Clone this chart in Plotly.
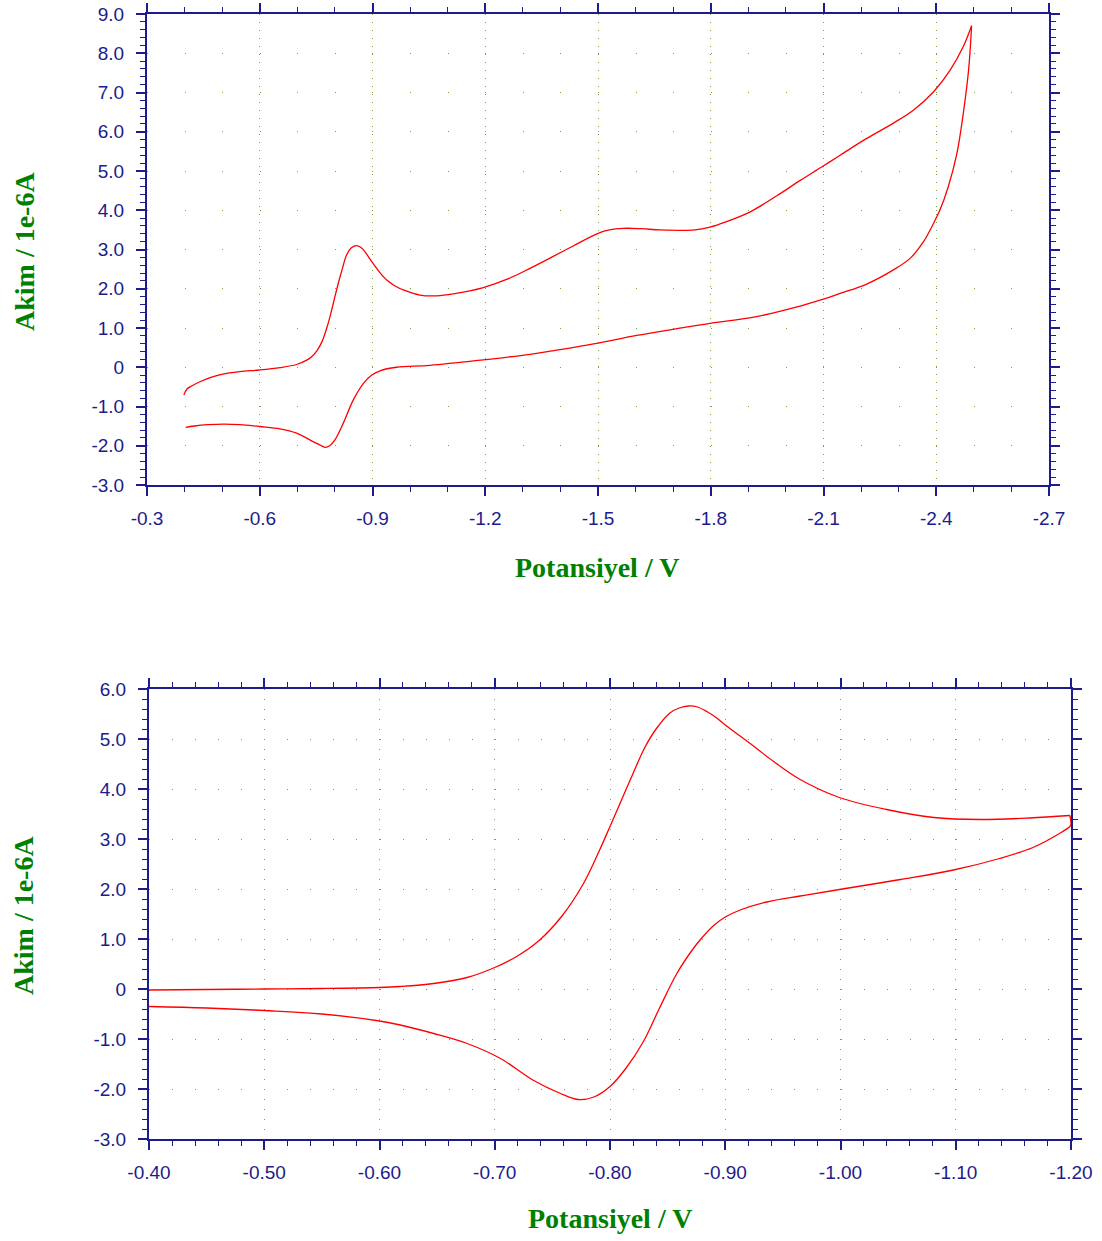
import numpy as np
import plotly.graph_objects as go

# ---------------- data ----------------
# Top panel: full scan -0.4 V -> -2.5 V -> -0.4 V  (current in 1e-6 A)
top_fwd_v = [-0.398, -0.406, -0.420, -0.441, -0.470, -0.499, -0.547, -0.599, -0.654, -0.698,
             -0.725, -0.738, -0.752, -0.765, -0.776, -0.787, -0.798, -0.809, -0.820, -0.831,
             -0.843, -0.856, -0.866, -0.876, -0.898, -0.918, -0.938, -0.960, -0.982, -1.026,
             -1.071, -1.115, -1.195, -1.260, -1.319, -1.372, -1.434, -1.497, -1.530, -1.567,
             -1.616, -1.665, -1.758, -1.798, -1.842, -1.905, -1.976, -2.038, -2.095, -2.144,
             -2.215, -2.286, -2.339, -2.393, -2.437, -2.472, -2.494]
top_fwd_i = [-0.71, -0.56, -0.47, -0.37, -0.26, -0.18, -0.11, -0.07, -0.01, 0.07,
             0.18, 0.27, 0.42, 0.64, 0.93, 1.29, 1.72, 2.14, 2.52, 2.86,
             3.04, 3.10, 3.07, 2.99, 2.69, 2.43, 2.22, 2.07, 1.97, 1.84,
             1.82, 1.87, 2.03, 2.25, 2.52, 2.78, 3.09, 3.40, 3.50, 3.54,
             3.53, 3.50, 3.50, 3.57, 3.71, 3.96, 4.37, 4.76, 5.10, 5.40,
             5.83, 6.22, 6.55, 7.02, 7.57, 8.17, 8.70]
top_rev_v = [-2.494, -2.491, -2.486, -2.472, -2.455, -2.432, -2.410, -2.393, -2.366, -2.331,
             -2.286, -2.215, -2.144, -2.095, -2.038, -1.922, -1.798, -1.727, -1.603, -1.497,
             -1.372, -1.319, -1.195, -1.053, -0.964, -0.920, -0.898, -0.876, -0.849, -0.822,
             -0.800, -0.786, -0.774, -0.760, -0.743, -0.698, -0.654, -0.599, -0.547, -0.463,
             -0.432, -0.403]
top_rev_i = [8.70, 8.20, 7.57, 6.47, 5.45, 4.60, 4.01, 3.67, 3.20, 2.78,
             2.48, 2.12, 1.88, 1.72, 1.56, 1.29, 1.12, 1.01, 0.81, 0.61,
             0.41, 0.33, 0.19, 0.05, 0.00, -0.09, -0.20, -0.41, -0.83, -1.43,
             -1.85, -2.00, -2.04, -1.98, -1.90, -1.68, -1.57, -1.51, -1.46, -1.46,
             -1.49, -1.53]

# Bottom panel: scan -0.4 V -> -1.2 V -> -0.4 V
bot_fwd_v = [-0.400, -0.450, -0.500, -0.550, -0.600, -0.618, -0.647, -0.676, -0.700, -0.719,
             -0.739, -0.759, -0.777, -0.791, -0.800, -0.810, -0.820, -0.830, -0.840, -0.852,
             -0.860, -0.868, -0.876, -0.884, -0.892, -0.900, -0.921, -0.942, -0.965, -0.999,
             -1.040, -1.081, -1.121, -1.164, -1.199]
bot_fwd_i = [-0.02, -0.01, 0.00, 0.01, 0.03, 0.05, 0.11, 0.23, 0.43, 0.65,
             0.98, 1.48, 2.11, 2.78, 3.25, 3.78, 4.31, 4.82, 5.20, 5.52,
             5.62, 5.66, 5.64, 5.55, 5.43, 5.28, 4.92, 4.55, 4.19, 3.83,
             3.59, 3.43, 3.39, 3.42, 3.47]
bot_rev_v = [-1.199, -1.200, -1.199, -1.190, -1.167, -1.138, -1.098, -1.052, -0.999, -0.965,
             -0.936, -0.913, -0.900, -0.890, -0.880, -0.872, -0.858, -0.843, -0.829,
             -0.814, -0.800, -0.786, -0.772, -0.757, -0.733, -0.705, -0.676, -0.647, -0.618,
             -0.600, -0.550, -0.500, -0.450, -0.400]
bot_rev_i = [3.47, 3.30, 3.25, 3.11, 2.83, 2.61, 2.38, 2.19, 1.99, 1.86,
             1.74, 1.58, 1.44, 1.27, 1.03, 0.80, 0.31, -0.38, -1.05,
             -1.58, -1.95, -2.16, -2.21, -2.09, -1.82, -1.39, -1.09, -0.89, -0.72,
             -0.64, -0.50, -0.43, -0.38, -0.35]

# tick labels
top_x_vals = [-0.3, -0.6, -0.9, -1.2, -1.5, -1.8, -2.1, -2.4, -2.7]
top_x_text = ["-0.3", "-0.6", "-0.9", "-1.2", "-1.5", "-1.8", "-2.1", "-2.4", "-2.7"]
top_y_vals = [-3, -2, -1, 0, 1, 2, 3, 4, 5, 6, 7, 8, 9]
top_y_text = ["-3.0", "-2.0", "-1.0", "0", "1.0", "2.0", "3.0", "4.0", "5.0", "6.0", "7.0", "8.0", "9.0"]
bot_x_vals = [-0.4, -0.5, -0.6, -0.7, -0.8, -0.9, -1.0, -1.1, -1.2]
bot_x_text = ["-0.40", "-0.50", "-0.60", "-0.70", "-0.80", "-0.90", "-1.00", "-1.10", "-1.20"]
bot_y_vals = [-3, -2, -1, 0, 1, 2, 3, 4, 5, 6]
bot_y_text = ["-3.0", "-2.0", "-1.0", "0", "1.0", "2.0", "3.0", "4.0", "5.0", "6.0"]

x_title = "Potansiyel / V"
y_title = "Akim / 1e-6A"

# ---------------- styling ----------------
OFF = 0  # page body margin removed via post_script
W, H = 1102, 1241
NAVY = "#1c1c8c"
GRID = "#7aa040"
GREEN = "#008000"
RED = "#ff0000"
TICKFONT = dict(family="Liberation Sans, Arial, sans-serif", size=19, color=NAVY)
TITLEFONT = dict(family="Liberation Serif, Times New Roman, serif", size=28, color=GREEN, weight="bold")


def px_domain_x(a, b):
    return [(a - OFF) / W, (b - OFF) / W]


def px_domain_y(top, bottom):
    return [1 - (bottom - OFF) / H, 1 - (top - OFF) / H]


def pos(px, py):
    return (px - OFF) / W, 1 - (py - OFF) / H


def axis(domain, rng, vals, text, minor_dtick, griddash, anchor, standoff):
    return dict(
        domain=domain, range=rng, anchor=anchor, automargin=False,
        tickmode="array", tickvals=vals, ticktext=text, ticklabeloverflow="allow",
        ticks="outside", ticklen=9, tickwidth=1.5, tickcolor=NAVY,
        showline=True, linecolor=NAVY, linewidth=2, mirror="ticks",
        showgrid=True, gridcolor=GRID, gridwidth=1, griddash=griddash,
        zeroline=False, tickfont=TICKFONT, ticklabelstandoff=standoff,
        minor=dict(tickmode="linear", tick0=0, dtick=minor_dtick, ticks="outside",
                   ticklen=5, tickwidth=1.2, tickcolor=NAVY, showgrid=False),
    )


fig = go.Figure()
line = dict(color=RED, width=1.3, shape="spline", smoothing=1.0)
fig.add_trace(go.Scatter(x=top_fwd_v, y=top_fwd_i, mode="lines", line=line, xaxis="x", yaxis="y"))
fig.add_trace(go.Scatter(x=top_rev_v, y=top_rev_i, mode="lines", line=line, xaxis="x", yaxis="y"))
fig.add_trace(go.Scatter(x=bot_fwd_v, y=bot_fwd_i, mode="lines", line=line, xaxis="x2", yaxis="y2"))
fig.add_trace(go.Scatter(x=bot_rev_v, y=bot_rev_i, mode="lines", line=line, xaxis="x2", yaxis="y2"))

top_px_per_x = (1049 - 147) / 2.4 * 0.1
bot_px_per_x = (1071 - 149) / 0.8 * 0.02

annots = []
for (cx, cy, txt, ang) in [(597, 567, x_title, 0), (24, 252, y_title, -90),
                           (610, 1218, x_title, 0), (24, 916, y_title, -90)]:
    ax_, ay_ = pos(cx, cy)
    annots.append(dict(text=txt, xref="paper", yref="paper", x=ax_, y=ay_, textangle=ang,
                       showarrow=False, font=TITLEFONT, xanchor="center", yanchor="middle"))

fig.update_layout(
    width=W, height=H,
    margin=dict(l=0, r=0, t=0, b=0, autoexpand=False),
    paper_bgcolor="white", plot_bgcolor="white",
    showlegend=False, hovermode=False,
    xaxis=axis(px_domain_x(147, 1049), [-0.3, -2.7], top_x_vals, top_x_text, 0.1, "1px,7px", "y", 6),
    yaxis=axis(px_domain_y(14, 485), [-3, 9], top_y_vals, top_y_text, 0.2,
               "1px,%.2fpx" % (top_px_per_x - 1), "x", 8),
    xaxis2=axis(px_domain_x(149, 1071), [-0.4, -1.2], bot_x_vals, bot_x_text, 0.02, "1px,9px", "y2", 6),
    yaxis2=axis(px_domain_y(689, 1139), [-3, 6], bot_y_vals, bot_y_text, 0.2,
                "1px,%.2fpx" % (bot_px_per_x - 1), "x2", 8),
    annotations=annots,
)

fig.write_html("out.html", config={"displayModeBar": False},
               post_script="document.body.style.margin='0px';")
